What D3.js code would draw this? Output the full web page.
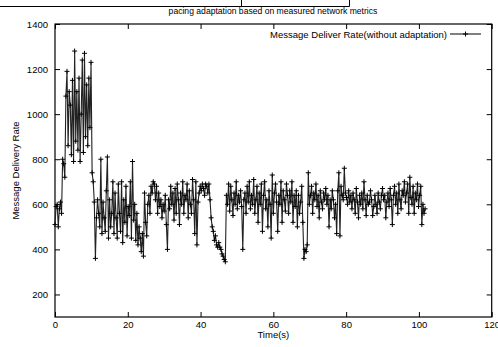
<!DOCTYPE html>
<html>
<head>
<meta charset="utf-8">
<script src="https://cdn.jsdelivr.net/npm/d3@7"></script>
<style>
  body { margin: 0; background: #fff; }
  svg { display: block; }
  svg text { fill: #000; font-family: "Liberation Sans", Arial, sans-serif; }
</style>
</head>
<body>
<div id="chart"></div>
<script>
// sampled every 0.3 s
var sampleStep = 0.3;
var rates = [
  510, 590, 600, 500, 580, 610, 560, 800, 780, 720,
  1080, 1190, 860, 1100, 1040, 820, 1150, 790, 1280, 880,
  1100, 840, 1160, 790, 1000, 1240, 830, 1270, 900, 1130,
  860, 1160, 940, 1230, 740, 700, 610, 360, 540, 620,
  560, 500, 800, 470, 610, 540, 480, 660, 810, 450,
  620, 500, 560, 700, 470, 650, 540, 450, 690, 560,
  480, 700, 430, 620, 520, 680, 460, 590, 550, 700,
  450, 790, 530, 600, 440, 560, 420, 500, 450, 390,
  470, 370, 650, 520, 460, 600, 640, 560, 680, 650,
  700, 690, 620, 680, 560, 650, 590, 620, 540, 600,
  570, 640, 510, 400, 620, 580, 680, 600, 650, 530,
  670, 560, 690, 620, 510, 650, 600, 700, 560, 640,
  620, 690, 540, 660, 600, 560, 710, 620, 470, 700,
  420, 610, 650, 680, 660, 690, 670, 640, 690, 680,
  650, 690, 620, 540, 500, 480, 440, 460, 420, 410,
  430, 410, 400, 380, 370, 355, 345, 640, 600, 690,
  570, 680, 620, 550, 650, 600, 700, 580, 640, 610,
  660, 590, 400, 620, 650, 560, 680, 610, 700, 580,
  640, 600, 710, 560, 620, 680, 520, 650, 600, 690,
  480, 640, 700, 580, 620, 500, 660, 600, 450, 730,
  560, 650, 690, 610, 480, 640, 600, 700, 520, 660,
  620, 570, 690, 640, 560, 660, 610, 700, 520, 640,
  590, 660, 500, 640, 560, 610, 680, 520, 360, 400,
  390, 420, 740, 600, 640, 680, 560, 650, 620, 690,
  590, 640, 540, 660, 610, 580, 650, 620, 670, 600,
  640, 500, 620, 580, 660, 620, 540, 600, 470, 660,
  740, 460, 680, 640, 620, 760, 650, 630, 600, 660,
  610, 640, 580, 650, 620, 560, 670, 610, 540, 640,
  600, 650, 580, 700, 620, 550, 640, 600, 610, 660,
  620, 550, 590, 640, 600, 560, 650, 610, 580, 640,
  670, 620, 640, 540, 610, 650, 590, 670, 620, 510,
  640, 680, 600, 650, 560, 690, 620, 580, 660, 640,
  700, 610, 650, 690, 560, 720, 630, 600, 680, 560,
  650, 620, 690, 590, 640, 680, 510, 600, 560, 580
];
var xTicks = [0, 20, 40, 60, 80, 100, 120];
var yTicks = [200, 400, 600, 800, 1000, 1200, 1400];
var titleText = 'pacing adaptation based on measured network metrics';
var seriesName = 'Message Deliver Rate(without adaptation)';

var width = 498, height = 347;
var margin = { top: 24, right: 6.3, bottom: 30, left: 55 };

var data = rates.map((v, i) => ({ t: i * sampleStep, v: v }));

var svg = d3.select('#chart').append('svg')
  .attr('width', width)
  .attr('height', height);

var x = d3.scaleLinear()
  .domain([0, 120])
  .range([margin.left, width - margin.right]);

var y = d3.scaleLinear()
  .domain([100, 1400])
  .range([height - margin.bottom, margin.top]);

// leftover frame of the figure above (cropped)
svg.append('path')
  .attr('d', 'M0,6.5H349.5V0M241.5,0V6.5')
  .attr('fill', 'none')
  .attr('stroke', '#000')
  .attr('stroke-width', 1);

svg.append('text')
  .attr('x', 273)
  .attr('y', 14)
  .attr('text-anchor', 'middle')
  .style('font-size', '8.6px')
  .text(titleText);

// axes, gnuplot style: inward ticks mirrored on all sides
var tl = 5;
var fmt = d3.format('d');
svg.append('g')
  .attr('transform', `translate(0,${y(100)})`)
  .call(d3.axisBottom(x).tickValues(xTicks).tickSize(-tl).tickPadding(4).tickFormat(fmt))
  .call(g => g.select('.domain').remove())
  .call(g => g.selectAll('text').style('font-size', '9.5px'));

svg.append('g')
  .attr('transform', `translate(0,${y(1400)})`)
  .call(d3.axisTop(x).tickValues(xTicks).tickSize(-tl).tickFormat(''))
  .call(g => g.select('.domain').remove());

svg.append('g')
  .attr('transform', `translate(${x(0)},0)`)
  .call(d3.axisLeft(y).tickValues(yTicks).tickSize(-tl).tickPadding(7).tickFormat(fmt))
  .call(g => g.select('.domain').remove())
  .call(g => g.selectAll('text').style('font-size', '9.5px'));

svg.append('g')
  .attr('transform', `translate(${x(120)},0)`)
  .call(d3.axisRight(y).tickValues(yTicks).tickSize(-tl).tickFormat(''))
  .call(g => g.select('.domain').remove());

svg.selectAll('.tick line').attr('stroke', '#000');

svg.append('rect')
  .attr('x', x(0))
  .attr('y', y(1400))
  .attr('width', x(120) - x(0))
  .attr('height', y(100) - y(1400))
  .attr('fill', 'none')
  .attr('stroke', '#000')
  .attr('stroke-width', 1.2);

svg.append('text')
  .attr('x', (x(0) + x(120)) / 2)
  .attr('y', 338)
  .attr('text-anchor', 'middle')
  .style('font-size', '9.5px')
  .text('Time(s)');

svg.append('text')
  .attr('transform', `translate(19,${(y(100) + y(1400)) / 2}) rotate(-90)`)
  .attr('text-anchor', 'middle')
  .style('font-size', '9.5px')
  .text('Message Delivery Rate');

// series
var line = d3.line().x(d => x(d.t)).y(d => y(d.v));

svg.append('path')
  .datum(data)
  .attr('fill', 'none')
  .attr('stroke', '#222')
  .attr('stroke-width', 1.1)
  .attr('d', line);

svg.append('g').selectAll('path.pt')
  .data(data)
  .enter()
  .append('path')
  .attr('class', 'pt')
  .attr('d', 'M-2.5,0H2.5M0,-2.5V2.5')
  .attr('transform', d => `translate(${x(d.t)},${y(d.v)})`)
  .attr('stroke', '#000')
  .attr('stroke-width', 1);

// legend
svg.append('text')
  .attr('x', 447)
  .attr('y', 37.5)
  .attr('text-anchor', 'end')
  .style('font-size', '9.5px')
  .text(seriesName);

svg.append('line')
  .attr('x1', 450).attr('x2', 481)
  .attr('y1', 34).attr('y2', 34)
  .attr('stroke', '#000');

svg.append('path')
  .attr('d', 'M-2.5,0H2.5M0,-2.5V2.5')
  .attr('transform', 'translate(465.5,34)')
  .attr('stroke', '#000');
</script>
</body>
</html>
